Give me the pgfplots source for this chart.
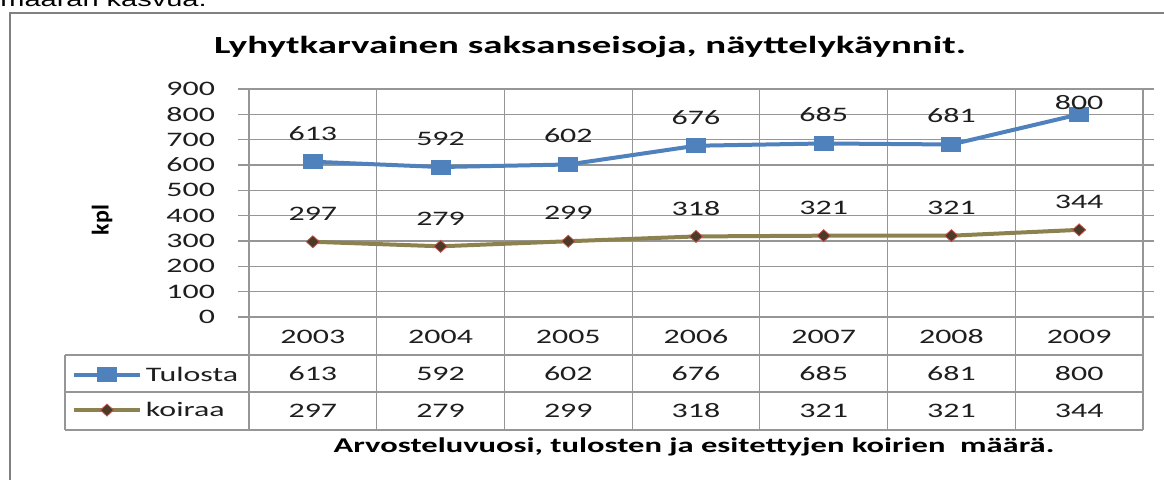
\documentclass[border=0pt]{standalone}
\usepackage{pgfplots}
\pgfplotsset{compat=1.18}
\usepackage{pgfplotstable}
\usepackage{fontspec}
\setmainfont{Carlito}[FakeStretch=1.55]
\newfontfamily\titlefont{Carlito}[FakeStretch=1.58]
\newfontfamily\plainfont{Carlito}
\newfontfamily\arialfont{Liberation Sans}[FakeStretch=1.45]

\definecolor{gridgray}{RGB}{150,150,150}
\definecolor{framegray}{RGB}{128,128,128}
\definecolor{tblue}{RGB}{79,129,189}
\definecolor{kolive}{RGB}{140,130,80}
\definecolor{kfill}{RGB}{75,58,38}
\definecolor{kdraw}{RGB}{192,80,77}
\definecolor{txt}{RGB}{30,30,30}

\pgfplotsset{/pgf/number format/assume math mode=true}

% x = year index (0 = 2003), dy = label offset in pt
\pgfplotstableread{
x y dy
0 613 14.25
1 592 14.25
2 602 14.25
3 676 14.25
4 685 14.25
5 681 14.25
6 800 6
}\tulosta
\pgfplotstableread{
x y dy
0 297 14
1 279 14
2 299 14
3 318 14
4 321 14
5 321 14
6 344 14
}\koiraa

\newcommand{\numfont}{\fontsize{10.3}{12}\selectfont}

\begin{document}
\begin{tikzpicture}
\path[use as bounding box] (0,0) rectangle (582pt,-240pt);
\clip (0,0) rectangle (582pt,-240pt);

% cut off text above the chart
\node[anchor=base west, inner sep=0pt, font=\arialfont\fontsize{10}{12}\selectfont] at (0pt,-3.2pt) {määrän kasvua.};

% chart frame
\draw[framegray, line width=1.25pt] (5pt,-260pt) -- (5pt,-6.5pt) -- (600pt,-6.5pt);

\begin{axis}[
  scale only axis, width=447pt, height=114pt,
  at={(124.5pt,-158.5pt)}, anchor=south west,
  xmin=-0.5, xmax=6.5, ymin=0, ymax=900,
  xtick={-0.5,0.5,...,6.5}, xticklabels={},
  ytick={0,100,...,900},
  grid=major, grid style={gridgray, line width=0.6pt, solid},
  axis line style={gridgray, line width=0.6pt},
  tick align=outside, major tick length=5.5pt,
  xtick style={draw=none}, ytick style={gridgray, line width=0.6pt},
  yticklabel style={font=\numfont, text=txt, xshift=-8pt},
  clip=false,
  legend cell align=left,
  legend image code/.code={\draw[mark repeat=2,mark phase=2,#1] plot coordinates {(0pt,0pt) (16.5pt,0pt) (33pt,0pt)};},
  legend style={at={(axis description cs:-0.198,-0.331)}, anchor=west,
    draw=none, fill=none, inner sep=0pt, outer sep=0pt,
    nodes={inner sep=0pt, text height=6.6pt, text depth=0pt, font=\numfont, text=txt},
    row sep=11pt, column sep=2pt},
]
\addplot[tblue, line width=2pt, mark=square*, mark size=2.75pt,
  mark options={xscale=1.45, solid},
  nodes near coords,
  visualization depends on={\thisrow{dy} \as \dy},
  nodes near coords style={anchor=center, yshift=\dy pt, text=txt, font=\numfont}]
  table[x=x, y=y] {\tulosta};
\addlegendentry{Tulosta}
\addplot[kolive, line width=2pt, mark=diamond*, mark size=3pt,
  mark options={xscale=1.45, solid, fill=kfill, draw=kdraw, line width=0.4pt},
  nodes near coords,
  visualization depends on={\thisrow{dy} \as \dy},
  nodes near coords style={anchor=center, yshift=\dy pt, text=txt, font=\numfont}]
  table[x=x, y=y] {\koiraa};
\addlegendentry{koiraa}
\end{axis}

% data table below the axis
\begin{scope}[gridgray, line width=0.6pt]
  \draw (32.5pt,-177.5pt) -- (571.5pt,-177.5pt);
  \draw (32.5pt,-196pt) -- (571.5pt,-196pt);
  \draw (32.5pt,-215pt) -- (571.5pt,-215pt);
  \draw (32.5pt,-177.5pt) -- (32.5pt,-215pt);
  \foreach \k in {0,...,7} \draw ({(124.5+63.857*\k)*1pt},-158.5pt) -- ({(124.5+63.857*\k)*1pt},-215pt);
\end{scope}
\foreach \i/\yr/\a/\b in {0/2003/613/297, 1/2004/592/279, 2/2005/602/299, 3/2006/676/318, 4/2007/685/321, 5/2008/681/321, 6/2009/800/344} {
  \node[font=\numfont, text=txt] at ({(156.43+63.857*\i)*1pt},-168.5pt) {\yr};
  \node[font=\numfont, text=txt] at ({(156.43+63.857*\i)*1pt},-187pt) {\a};
  \node[font=\numfont, text=txt] at ({(156.43+63.857*\i)*1pt},-205.5pt) {\b};
}

% titles
\node[font=\titlefont\bfseries\fontsize{12.3}{14}\selectfont, text=black] at (295pt,-23.5pt) {Lyhytkarvainen saksanseisoja, näyttelykäynnit.};
\node[font=\bfseries\fontsize{10.5}{13}\selectfont, text=black] at (347pt,-223.5pt) {Arvosteluvuosi, tulosten ja esitettyjen koirien\ \ määrä.};
\node[rotate=90, font=\plainfont\bfseries\fontsize{12}{14}\selectfont, text=black] at (51pt,-110pt) {kpl};
\end{tikzpicture}
\end{document}
